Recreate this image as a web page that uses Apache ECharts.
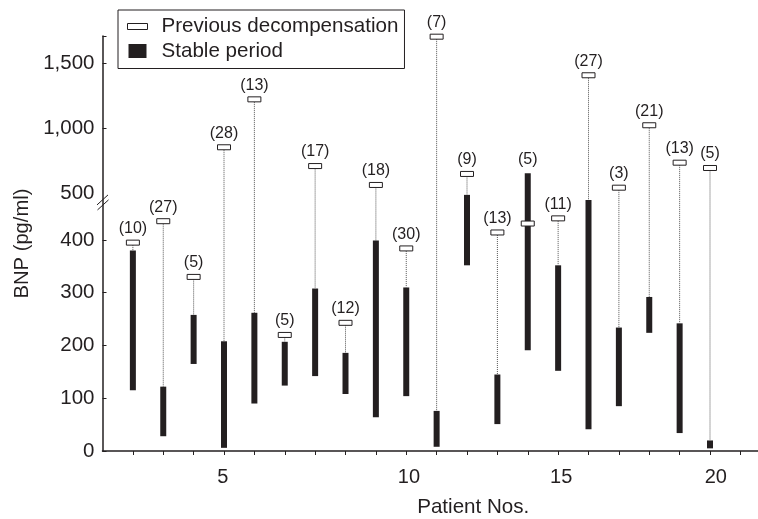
<!DOCTYPE html>
<html><head><meta charset="utf-8">
<script src="https://cdn.jsdelivr.net/npm/echarts@6/dist/echarts.min.js"></script>
<style>html,body{margin:0;padding:0;background:#fff}#c{width:758px;height:519px}</style>
</head><body><div id="c"></div>
<script>
// ---- data ----
const patients = [1,2,3,4,5,6,7,8,9,10,11,12,13,14,15,16,17,18,19,20];
const decompensation = [395,440,330,853,1223,220,708,243,562,384,1707,647,416,435,446,1409,541,1023,734,693];
const stableLow  = [115,28,165,6,90,124,142,108,64,104,8,352,51,191,152,41,85,224,34,5];
const stableHigh = [380,122,258,208,262,207,308,186,399,310,76,496,145,652,352,485,234,292,242,20];
const admissionCounts = [10,27,5,28,13,5,17,12,18,30,7,9,13,5,11,27,3,21,13,5];
const yTickValues = [0,100,200,300,400,500,1000,1500];
const yTickLabels = ['0','100','200','300','400','500','1,000','1,500'];
const xTickLabels = ['5','10','15','20'];

// ---- broken axis: linear 0-400, slightly compressed 400-500, strongly compressed above 500 ----
function tf(v){ if(v<=400) return v; if(v<=500) return 400+(v-400)*0.891; return 489.1+(v-500)*0.2455; }
const Y_MAX = 786.7;
const X_MAX = 21.58;
const INK = '#231f20';
const FONT = '"Liberation Sans", Arial, Helvetica, sans-serif';

const decompData = patients.map((p,i)=>[p, decompensation[i], stableHigh[i], admissionCounts[i]]);
const stableData = patients.map((p,i)=>[p, stableLow[i], stableHigh[i]]);

function renderDecomp(params, api){
  const x = api.value(0);
  const pm = api.coord([x, tf(api.value(1))]);
  const ph = api.coord([x, tf(api.value(2))]);
  const children = [];
  if (pm[1] + 2.5 < ph[1]) {
    children.push({type:'line', shape:{x1:pm[0], y1:pm[1]+2.5, x2:pm[0], y2:ph[1]},
      style:{stroke:'#555', lineWidth:1, lineDash:[1,1]}});
  }
  children.push({type:'rect', shape:{x:pm[0]-6.5, y:pm[1]-2.5, width:13, height:5},
    style:{fill:'#fff', stroke:INK, lineWidth:1}});
  const topY = Math.min(pm[1], ph[1]);
  children.push({type:'text', x:pm[0], y:topY-14,
    style:{text:'('+api.value(3)+')', align:'center', verticalAlign:'middle', fontSize:16, fontFamily:FONT, fill:INK}});
  return {type:'group', children};
}
function renderStable(params, api){
  const x = api.value(0);
  const pl = api.coord([x, tf(api.value(1))]);
  const ph = api.coord([x, tf(api.value(2))]);
  return {type:'rect', shape:{x:pl[0]-3, y:ph[1], width:6, height:pl[1]-ph[1]}, style:{fill:INK}};
}

const xLabelPos = [3.96, 10.09, 15.1, 20.19];
const xTicks = []; for (let i=1;i<=21;i++) xTicks.push(i);
const yLabelPos = yTickValues.map(tf);
const yTickPos = yTickValues.filter(v=>v!==500).map(tf).concat([Y_MAX]);

const chart = echarts.init(document.getElementById('c'), null, {renderer:'canvas'});
chart.setOption({
  animation:false,
  backgroundColor:'#fff',
  textStyle:{fontFamily:FONT, color:INK},
  grid:{left:102.5, right:0, top:36, bottom:68, containLabel:false, outerBoundsMode:'none'},
  legend:{
    orient:'vertical', left:118, top:10,
    padding:[6,6,7,9], itemGap:3.5, itemWidth:20, itemHeight:14,
    borderColor:INK, borderWidth:1, backgroundColor:'#fff',
    selectedMode:false, symbolKeepAspect:true,
    textStyle:{fontSize:20.6, fontFamily:FONT, color:INK, lineHeight:20, padding:[0,0,0,9]},
    data:[
      {name:'Previous decompensation', icon:'path://M0,0H20V6H0Z', itemStyle:{color:'#fff', borderColor:INK, borderWidth:1}},
      {name:'Stable period', icon:'path://M0,0H18V14H0Z', itemStyle:{color:INK}}
    ]
  },
  xAxis:{
    type:'value', min:0, max:X_MAX,
    name:'Patient Nos.', nameLocation:'middle', nameGap:46,
    nameTextStyle:{fontSize:20.6, fontFamily:FONT, color:INK, padding:[0,0,0,86]},
    axisLine:{show:true, onZero:false, lineStyle:{color:INK, width:1.5}},
    axisTick:{show:true, inside:false, length:4, lineStyle:{color:INK, width:1}, customValues:xTicks},
    axisLabel:{show:true, margin:16, fontSize:20, fontFamily:FONT, color:INK, customValues:xLabelPos,
      formatter:function(v){ let best=0; for(let i=0;i<xLabelPos.length;i++){ if(Math.abs(xLabelPos[i]-v)<Math.abs(xLabelPos[best]-v)) best=i; } return xTickLabels[best]; }},
    splitLine:{show:false}
  },
  yAxis:{
    type:'value', min:0, max:Y_MAX,
    name:'BNP (pg/ml)', nameLocation:'middle', nameGap:63,
    nameTextStyle:{fontSize:20.2, fontFamily:FONT, color:INK, padding:[0,0,0,0]},
    axisLine:{show:true, lineStyle:{color:INK, width:1.5}},
    axisTick:{show:true, inside:true, length:4, lineStyle:{color:INK, width:1}, customValues:yTickPos},
    axisLabel:{show:true, margin:8, fontSize:20.5, fontFamily:FONT, color:INK, customValues:yLabelPos,
      formatter:function(v){ let best=0; for(let i=0;i<yLabelPos.length;i++){ if(Math.abs(yLabelPos[i]-v)<Math.abs(yLabelPos[best]-v)) best=i; } return yTickLabels[best]; }},
    splitLine:{show:false}
  },
  series:[
    {name:'Stable period', type:'custom', z:2, clip:false, renderItem:renderStable,
      itemStyle:{color:INK}, encode:{x:0, y:[1,2]}, data:stableData},
    {name:'Previous decompensation', type:'custom', z:3, clip:false, renderItem:renderDecomp,
      itemStyle:{color:'#fff', borderColor:INK}, encode:{x:0, y:1}, data:decompData}
  ]
});

// axis-break marker (//) placed through the axis scale
const bp = chart.convertToPixel({xAxisIndex:0, yAxisIndex:0}, [0, tf(481)]);
const cx = bp[0], cy = bp[1];
chart.setOption({graphic:[
  {type:'line', z:10, shape:{x1:cx-5.5, y1:cy+3, x2:cx+5.5, y2:cy-7}, style:{stroke:INK, lineWidth:1}},
  {type:'line', z:10, shape:{x1:cx-5, y1:cy+8, x2:cx+6, y2:cy-2}, style:{stroke:INK, lineWidth:1}}
]});
</script>
</body></html>
